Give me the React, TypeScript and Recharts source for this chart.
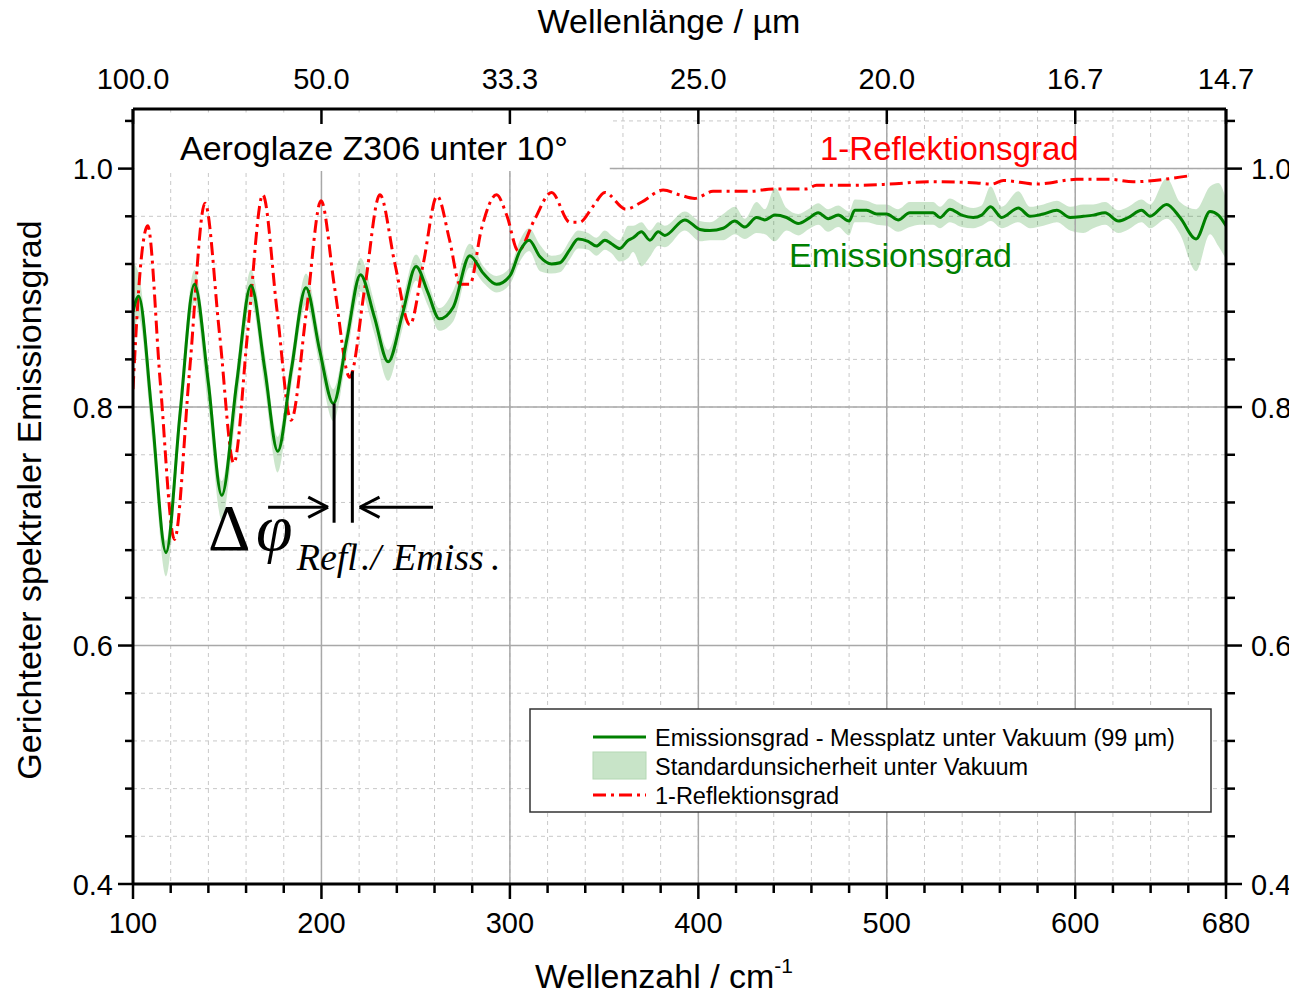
import {
  Area,
  CartesianGrid,
  ComposedChart,
  Line,
  ReferenceArea,
  ReferenceLine,
  XAxis,
  YAxis,
} from "recharts";

// Wellenzahl in cm^-1 fuer Emissionsgrad + Unsicherheitsband
const wavenumber = [
  100, 103, 110, 117.5, 125, 132.6, 140, 147.1,
  155, 162.6, 170, 176.8, 184, 191.8, 199, 206.3,
  213.5, 220.7, 228, 235.4, 243, 250.2, 256.5, 262.6,
  270, 278.7, 286, 292.9, 300, 305.3, 310.2, 316,
  322.1, 326.5, 331.8, 336.2, 341.5, 345.9, 350.4, 353.9,
  358.2, 362.8, 365.4, 369.8, 374.3, 378.7, 382.2, 392.8,
  400.8, 406.1, 413.2, 419.4, 424.7, 430.9, 435.3, 440.6,
  446.8, 453, 458.3, 463.6, 468.9, 474.2, 480, 483,
  489.3, 494.6, 499.9, 506, 512.2, 517.5, 524.6, 528.2,
  533.5, 539.7, 545.9, 550.3, 555.1, 561, 569.8, 576,
  583.1, 590.2, 597.3, 604.3, 609.6, 615.8, 622.9, 628.2,
  635.2, 639.7, 648.5, 655.6, 664.1, 671.5, 675.9, 680,
];

const emission = [
  0.880, 0.893, 0.795, 0.678, 0.795, 0.903, 0.820, 0.726,
  0.820, 0.902, 0.831, 0.763, 0.831, 0.900, 0.848, 0.803,
  0.857, 0.911, 0.876, 0.838, 0.878, 0.918, 0.896, 0.874,
  0.884, 0.927, 0.912, 0.903, 0.910, 0.931, 0.940, 0.926,
  0.920, 0.921, 0.932, 0.941, 0.939, 0.935, 0.940, 0.937,
  0.933, 0.940, 0.942, 0.947, 0.940, 0.947, 0.944, 0.957,
  0.949, 0.948, 0.950, 0.956, 0.951, 0.959, 0.957, 0.961,
  0.959, 0.954, 0.958, 0.963, 0.958, 0.961, 0.956, 0.965,
  0.965, 0.962, 0.962, 0.957, 0.963, 0.963, 0.963, 0.959,
  0.966, 0.961, 0.959, 0.961, 0.968, 0.959, 0.967, 0.960,
  0.962, 0.965, 0.959, 0.960, 0.961, 0.963, 0.956, 0.959,
  0.965, 0.960, 0.970, 0.959, 0.941, 0.964, 0.961, 0.952,
];

const bandLow = [
  0.857, 0.875, 0.775, 0.658, 0.780, 0.888, 0.800, 0.705,
  0.800, 0.888, 0.815, 0.745, 0.818, 0.886, 0.835, 0.788,
  0.843, 0.897, 0.862, 0.822, 0.866, 0.906, 0.885, 0.864,
  0.872, 0.917, 0.904, 0.896, 0.903, 0.922, 0.931, 0.914,
  0.912, 0.913, 0.924, 0.933, 0.932, 0.927, 0.932, 0.929,
  0.922, 0.925, 0.930, 0.918, 0.926, 0.935, 0.934, 0.948,
  0.939, 0.940, 0.940, 0.945, 0.941, 0.946, 0.945, 0.939,
  0.948, 0.944, 0.949, 0.953, 0.947, 0.951, 0.944, 0.955,
  0.955, 0.953, 0.952, 0.947, 0.951, 0.953, 0.953, 0.950,
  0.955, 0.951, 0.950, 0.952, 0.956, 0.950, 0.955, 0.950,
  0.952, 0.955, 0.948, 0.946, 0.950, 0.953, 0.946, 0.949,
  0.955, 0.950, 0.958, 0.945, 0.914, 0.945, 0.935, 0.924,
];

const bandHigh = [
  0.921, 0.912, 0.810, 0.688, 0.810, 0.915, 0.835, 0.738,
  0.832, 0.915, 0.845, 0.775, 0.842, 0.912, 0.860, 0.815,
  0.868, 0.925, 0.888, 0.848, 0.890, 0.928, 0.905, 0.883,
  0.898, 0.937, 0.918, 0.910, 0.917, 0.940, 0.950, 0.936,
  0.927, 0.928, 0.940, 0.948, 0.946, 0.942, 0.948, 0.944,
  0.940, 0.952, 0.952, 0.955, 0.948, 0.955, 0.952, 0.964,
  0.956, 0.955, 0.962, 0.968, 0.958, 0.972, 0.966, 0.984,
  0.967, 0.962, 0.966, 0.971, 0.966, 0.969, 0.964, 0.974,
  0.973, 0.970, 0.970, 0.966, 0.972, 0.972, 0.972, 0.968,
  0.975, 0.970, 0.967, 0.969, 0.985, 0.968, 0.981, 0.968,
  0.970, 0.973, 0.968, 0.970, 0.970, 0.972, 0.965, 0.968,
  0.974, 0.970, 0.992, 0.972, 0.966, 0.985, 0.988, 0.975,
];

// 1-Reflektionsgrad (eigenes Wellenzahl-Raster)
const reflWavenumber = [
  100, 104, 107.8, 114.5, 122, 130, 138.2, 146,
  153.5, 161, 168.9, 176.5, 183.9, 192, 199.8, 207,
  215, 223, 231, 239, 246.9, 254, 261.4, 268,
  273.5, 278.7, 285, 292.9, 298.5, 304.4, 313, 322.1,
  331.8, 337, 344, 350.4, 361.5, 370, 381.3, 390,
  398.1, 407.8, 427.3, 439.7, 457.4, 462.7, 482.1, 501.6,
  522, 547.6, 555.6, 561.8, 579.5, 600.7, 618.4, 630.8,
  652, 660.5,
];

const oneMinusRefl = [
  0.815, 0.918, 0.952, 0.820, 0.689, 0.830, 0.971, 0.860,
  0.753, 0.865, 0.978, 0.880, 0.789, 0.880, 0.973, 0.900,
  0.825, 0.900, 0.978, 0.920, 0.869, 0.920, 0.977, 0.940,
  0.903, 0.903, 0.950, 0.978, 0.960, 0.931, 0.957, 0.980,
  0.955, 0.955, 0.968, 0.980, 0.966, 0.972, 0.982, 0.978,
  0.975, 0.981, 0.981, 0.983, 0.983, 0.986, 0.986, 0.987,
  0.989, 0.988, 0.987, 0.990, 0.987, 0.991, 0.991, 0.989,
  0.992, 0.994,
];

const xMajorTicks = [100, 200, 300, 400, 500, 600, 680];
const xMinorTicks = [
  120, 140, 160, 180, 220, 240, 260, 280, 320, 340, 360, 380,
  420, 440, 460, 480, 520, 540, 560, 580, 620, 640, 660,
];
const topTickLabels = ["100.0", "50.0", "33.3", "25.0", "20.0", "16.7", "14.7"];
const yMajorTicks = [0.4, 0.6, 0.8, 1.0];
const yMinorTicks = [
  0.44, 0.48, 0.52, 0.56, 0.64, 0.68, 0.72, 0.76, 0.84, 0.88, 0.92, 0.96, 1.04,
];

// Markierung der Phasenverschiebung (Minimum Emission / Minimum 1-R)
const phaseMarks = [
  [{ x: 206.7, y: 0.803 }, { x: 206.7, y: 0.703 }],
  [{ x: 216.4, y: 0.83 }, { x: 216.4, y: 0.703 }],
  [{ x: 171.7, y: 0.716 }, { x: 203.5, y: 0.716 }],
  [{ x: 203.5, y: 0.716 }, { x: 193.0, y: 0.7245 }],
  [{ x: 203.5, y: 0.716 }, { x: 193.0, y: 0.7075 }],
  [{ x: 259.2, y: 0.716 }, { x: 220.3, y: 0.716 }],
  [{ x: 220.3, y: 0.716 }, { x: 230.8, y: 0.7245 }],
  [{ x: 220.3, y: 0.716 }, { x: 230.8, y: 0.7075 }],
];

const W = 1289;
const H = 987;
const SANS = "'Liberation Sans', Arial, sans-serif";
const SERIF = "'Liberation Serif', 'Times New Roman', serif";
const GREEN = "#008000";
const RED = "#ff0000";
const TITLE_BOX_END = 353; // cm^-1, Ende des weissen Titelfelds

const emissionRows = wavenumber.map((x, i) => ({
  x,
  e: emission[i],
  band: [bandLow[i], bandHigh[i]],
}));
const reflRows = reflWavenumber.map((x, i) => ({ x, r: oneMinusRefl[i] }));
const xTicks = [...xMajorTicks, ...xMinorTicks].sort((a, b) => a - b);
const yTicks = [...yMajorTicks, ...yMinorTicks].sort((a, b) => a - b);

function BottomTick(props: any) {
  const { x, y, payload } = props;
  const major = xMajorTicks.includes(payload.value);
  return (
    <g>
      <line x1={x} x2={x} y1={y} y2={y + (major ? 15 : 9)} stroke="#000" strokeWidth={2.5} />
      {major && (
        <text x={x} y={y + 49} textAnchor="middle" fontSize={29} fill="#000" fontFamily={SANS}>
          {payload.value}
        </text>
      )}
    </g>
  );
}

function TopTick(props: any) {
  const { x, y, payload } = props;
  const idx = xMajorTicks.indexOf(payload.value);
  return (
    <g>
      <line x1={x} x2={x} y1={y} y2={y + 15} stroke="#000" strokeWidth={2.5} />
      <text x={x} y={y - 20} textAnchor="middle" fontSize={29} fill="#000" fontFamily={SANS}>
        {topTickLabels[idx]}
      </text>
    </g>
  );
}

function LeftTick(props: any) {
  const { x, y, payload } = props;
  const major = yMajorTicks.includes(payload.value);
  return (
    <g>
      <line x1={x} x2={x - (major ? 15 : 8)} y1={y} y2={y} stroke="#000" strokeWidth={2.5} />
      {major && (
        <text x={x - 20} y={y + 10.5} textAnchor="end" fontSize={29} fill="#000" fontFamily={SANS}>
          {payload.value.toFixed(1)}
        </text>
      )}
    </g>
  );
}

function RightTick(props: any) {
  const { x, y, payload } = props;
  const major = yMajorTicks.includes(payload.value);
  return (
    <g>
      <line x1={x} x2={x + (major ? 16 : 9)} y1={y} y2={y} stroke="#000" strokeWidth={2.5} />
      {major && (
        <text x={x + 25} y={y + 10.5} textAnchor="start" fontSize={29} fill="#000" fontFamily={SANS}>
          {payload.value.toFixed(1)}
        </text>
      )}
    </g>
  );
}

export default function App() {
  return (
    <div style={{ position: "relative", width: W, height: H }}>
      <ComposedChart width={W} height={H} margin={{ top: 0, right: 0, bottom: 0, left: 0 }}>
        <CartesianGrid
          xAxisId="bottom"
          yAxisId="left"
          stroke="#c8c8c8"
          strokeDasharray="4 4"
        />
        {xMajorTicks.slice(1, -1).map((v) => (
          <ReferenceLine
            key={`vx${v}`}
            xAxisId="bottom"
            yAxisId="left"
            segment={[{ x: v, y: 0.4 }, { x: v, y: v < TITLE_BOX_END ? 0.998 : 1.05 }]}
            stroke="#a8a8a8"
            strokeWidth={1.5}
          />
        ))}
        {yMajorTicks.slice(1).map((v) => (
          <ReferenceLine
            key={`hy${v}`}
            xAxisId="bottom"
            yAxisId="left"
            segment={[{ x: v >= 1 ? TITLE_BOX_END : 100, y: v }, { x: 680, y: v }]}
            stroke="#a8a8a8"
            strokeWidth={1.5}
          />
        ))}
        <ReferenceArea
          xAxisId="bottom"
          yAxisId="left"
          x1={100.8}
          x2={TITLE_BOX_END}
          y1={0.998}
          y2={1.047}
          fill="#fff"
          fillOpacity={1}
          stroke="none"
        />
        <Area
          data={emissionRows}
          xAxisId="bottom"
          yAxisId="left"
          dataKey="band"
          type="monotone"
          stroke="none"
          fill={GREEN}
          fillOpacity={0.2}
          isAnimationActive={false}
        />
        <Line
          data={reflRows}
          xAxisId="bottom"
          yAxisId="left"
          dataKey="r"
          type="monotone"
          stroke={RED}
          strokeWidth={3}
          strokeDasharray="13 5 3 5"
          dot={false}
          isAnimationActive={false}
        />
        <Line
          data={emissionRows}
          xAxisId="bottom"
          yAxisId="left"
          dataKey="e"
          type="monotone"
          stroke={GREEN}
          strokeWidth={3}
          dot={false}
          isAnimationActive={false}
        />
        {phaseMarks.map((seg, i) => (
          <ReferenceLine
            key={`pm${i}`}
            xAxisId="bottom"
            yAxisId="left"
            segment={seg}
            stroke="#000"
            strokeWidth={3}
          />
        ))}
        <XAxis
          xAxisId="bottom"
          orientation="bottom"
          type="number"
          dataKey="x"
          domain={[100, 680]}
          allowDataOverflow
          ticks={xTicks}
          interval={0}
          height={111}
          tickSize={0}
          tickMargin={0}
          tickLine={false}
          axisLine={{ stroke: "#000", strokeWidth: 3 }}
          tick={BottomTick}
        />
        <XAxis
          xAxisId="top"
          orientation="top"
          type="number"
          dataKey="x"
          domain={[100, 680]}
          allowDataOverflow
          ticks={xMajorTicks}
          interval={0}
          height={101}
          tickSize={0}
          tickMargin={0}
          tickLine={false}
          axisLine={{ stroke: "#000", strokeWidth: 3 }}
          tick={TopTick}
        />
        <YAxis
          yAxisId="left"
          orientation="left"
          type="number"
          domain={[0.4, 1.05]}
          allowDataOverflow
          ticks={yTicks}
          interval={0}
          width={125}
          tickSize={0}
          tickMargin={0}
          tickLine={false}
          axisLine={{ stroke: "#000", strokeWidth: 3 }}
          tick={LeftTick}
        />
        <YAxis
          yAxisId="right"
          orientation="right"
          type="number"
          domain={[0.4, 1.05]}
          allowDataOverflow
          ticks={yTicks}
          interval={0}
          width={71}
          tickSize={0}
          tickMargin={0}
          tickLine={false}
          axisLine={{ stroke: "#000", strokeWidth: 3 }}
          tick={RightTick}
        />
      </ComposedChart>

      <svg
        width={W}
        height={H}
        style={{ position: "absolute", left: 0, top: 0, pointerEvents: "none", overflow: "visible" }}
        fontFamily={SANS}
      >
        <text x={661} y={25} textAnchor="middle" fontSize={34} fill="#000">
          Wellenlänge / µm
        </text>
        <text x={527} y={980} fontSize={34} fill="#000">
          Wellenzahl / cm
          <tspan dy={-15} fontSize={21}>-1</tspan>
        </text>
        <text transform="translate(33,492) rotate(-90)" textAnchor="middle" fontSize={34} fill="#000">
          Gerichteter spektraler Emissionsgrad
        </text>
        <text x={172} y={152} fontSize={34} fill="#000">
          Aeroglaze Z306 unter 10°
        </text>
        <text x={812} y={152} fontSize={33} fill={RED}>
          1-Reflektionsgrad
        </text>
        <text x={781} y={259} fontSize={34} fill={GREEN}>
          Emissionsgrad
        </text>

        {/* Delta phi Beschriftung */}
        <text x={200} y={542} fontSize={66} fontFamily={SERIF} fill="#000">
          Δ
        </text>
        <text x={248} y={542} fontSize={66} fontFamily={SERIF} fontStyle="italic" fill="#000">
          φ
        </text>
        <text y={562} fontSize={38} fontFamily={SERIF} fontStyle="italic" fill="#000">
          <tspan x={288.7}>Refl</tspan>
          <tspan x={353}>./</tspan>
          <tspan x={385}>Emiss</tspan>
          <tspan x={483}>.</tspan>
        </text>

        {/* Legende */}
        <rect x={522} y={701} width={681} height={103} fill="#fff" stroke="#333" strokeWidth={1.5} />
        <line x1={585} x2={638} y1={729} y2={729} stroke={GREEN} strokeWidth={3} />
        <text x={647} y={737.5} fontSize={23.5} fill="#000">
          Emissionsgrad - Messplatz unter Vakuum (99 µm)
        </text>
        <rect x={585} y={744} width={53} height={27} fill="#c8e4c8" stroke="#b4d8b4" strokeWidth={1} />
        <text x={647} y={766.5} fontSize={23.5} fill="#000">
          Standardunsicherheit unter Vakuum
        </text>
        <line
          x1={585}
          x2={638}
          y1={787}
          y2={787}
          stroke={RED}
          strokeWidth={3}
          strokeDasharray="13 5 3 5"
        />
        <text x={647} y={795.5} fontSize={23.5} fill="#000">
          1-Reflektionsgrad
        </text>
      </svg>
    </div>
  );
}
